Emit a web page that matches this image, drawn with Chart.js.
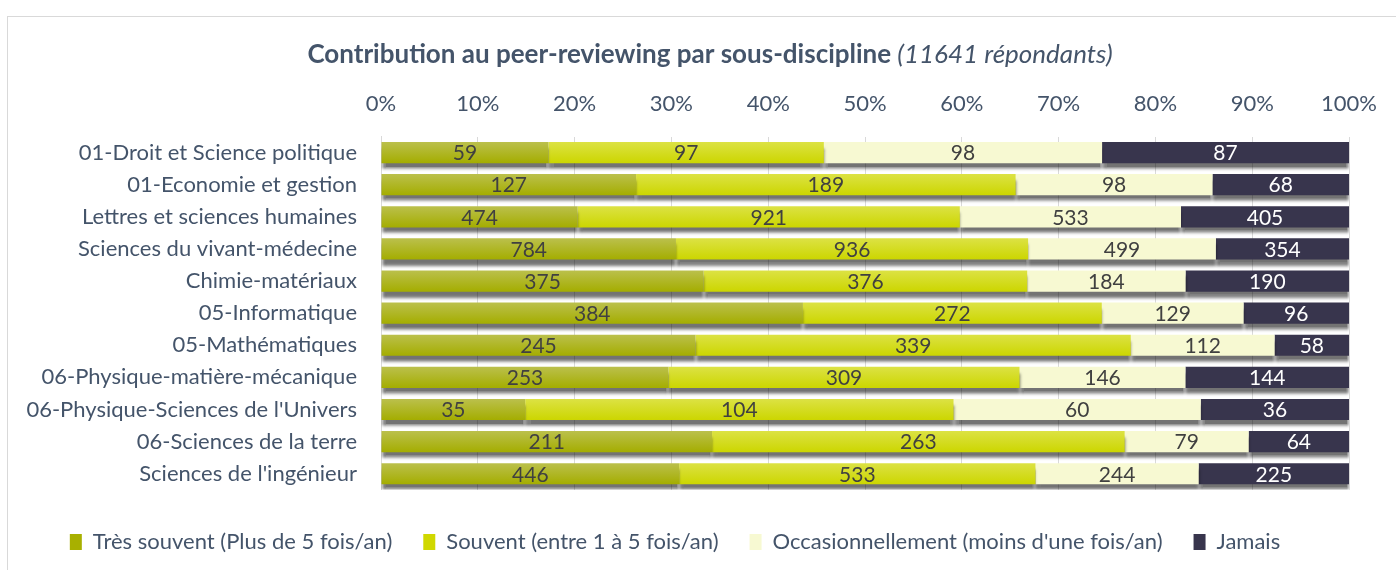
<!DOCTYPE html>
<html>
<head>
<meta charset="utf-8">
<script src="https://cdn.jsdelivr.net/npm/chart.js"></script>
<style>
  html, body { margin: 0; padding: 0; background: #fff; }
  #wrap { width: 1396px; height: 570px; position: relative; }
</style>
</head>
<body>
<div id="wrap"><canvas id="myChart" width="1396" height="570"></canvas></div>
<script>
// data
var categories = [
  '01-Droit et Science politique',
  '01-Economie et gestion',
  'Lettres et sciences humaines',
  'Sciences du vivant-médecine',
  'Chimie-matériaux',
  '05-Informatique',
  '05-Mathématiques',
  '06-Physique-matière-mécanique',
  "06-Physique-Sciences de l'Univers",
  '06-Sciences de la terre',
  "Sciences de l'ingénieur"
];
var tresSouvent = [59, 127, 474, 784, 375, 384, 245, 253, 35, 211, 446];
var souvent = [97, 189, 921, 936, 376, 272, 339, 309, 104, 263, 533];
var occasionnellement = [98, 98, 533, 499, 184, 129, 112, 146, 60, 79, 244];
var jamais = [87, 68, 405, 354, 190, 96, 58, 144, 36, 64, 225];
var seriesNames = [
  'Très souvent (Plus de 5 fois/an)',
  'Souvent (entre 1 à 5 fois/an)',
  "Occasionnellement (moins d'une fois/an)",
  'Jamais'
];
var titleMain = 'Contribution au peer-reviewing par sous-discipline';
var titleSub = ' (11641 répondants)';

var FONT = 'Lato';
var TXT = '#44546A';
var BAR_PCT = 0.66;

var counts = [tresSouvent, souvent, occasionnellement, jamais];
var totals = categories.map(function (c, i) {
  return counts.reduce(function (s, arr) { return s + arr[i]; }, 0);
});
function pct(arr) { return arr.map(function (v, i) { return v / totals[i] * 100; }); }

// vertical gradient per bar, built from the y scale positions
function barGradient(top, bottom, flat) {
  return function (ctx) {
    var chart = ctx.chart, area = chart.chartArea, ys = chart.scales.y;
    if (!area || !ys) return flat;
    var g = chart.ctx.createLinearGradient(0, area.top, 0, area.bottom);
    var h = area.bottom - area.top;
    var step = categories.length > 1 ? Math.abs(ys.getPixelForValue(1) - ys.getPixelForValue(0)) : h;
    var half = step * BAR_PCT / 2;
    categories.forEach(function (c, i) {
      var cy = ys.getPixelForValue(i);
      var a = Math.max(0, Math.min(1, (cy - half - area.top) / h));
      var b = Math.max(0, Math.min(1, (cy + half - area.top) / h));
      g.addColorStop(a, top);
      g.addColorStop(b, bottom);
    });
    return g;
  };
}

var colors = [
  barGradient('#BBC04C', '#A4AD00', '#AEB418'),
  barGradient('#DCE244', '#CCD600', '#D4DC20'),
  '#F7F9D2',
  '#38354D'
];

var frame = {
  id: 'frame',
  beforeDraw: function (chart) {
    var c = chart.ctx;
    c.save();
    c.strokeStyle = '#D9D9D9';
    c.lineWidth = 1;
    c.strokeRect(7.5, 16.5, 1400, 600);
    c.font = 'bold 26px ' + FONT;
    var w1 = c.measureText(titleMain).width;
    c.font = 'italic 26px ' + FONT;
    var w2 = c.measureText(titleSub).width;
    var x = (chart.width - (w1 + w2)) / 2 + 12;
    c.fillStyle = TXT;
    c.textBaseline = 'middle';
    c.font = 'bold 26px ' + FONT;
    c.fillText(titleMain, x, 55);
    c.font = 'italic 26px ' + FONT;
    c.fillText(titleSub, x + w1, 55);
    c.restore();
  }
};

var shadow = {
  id: 'shadow',
  beforeDatasetsDraw: function (chart) {
    var c = chart.ctx;
    c.save();
    c.shadowColor = 'rgba(0,0,0,0.55)';
    c.shadowOffsetY = 6;
    c.shadowBlur = 3;
  },
  afterDatasetsDraw: function (chart) {
    chart.ctx.restore();
  }
};

var valueLabels = {
  id: 'valueLabels',
  afterDatasetsDraw: function (chart) {
    var c = chart.ctx;
    c.save();
    c.font = '21px ' + FONT;
    c.textAlign = 'center';
    c.textBaseline = 'middle';
    chart.data.datasets.forEach(function (ds, di) {
      var meta = chart.getDatasetMeta(di);
      c.fillStyle = di === 3 ? '#FFFFFF' : '#404040';
      meta.data.forEach(function (el, i) {
        c.fillText(String(counts[di][i]), (el.x + el.base) / 2, el.y + 1);
      });
    });
    c.restore();
  }
};

var data = {
  labels: categories,
  datasets: counts.map(function (arr, i) {
    return {
      label: seriesNames[i],
      data: pct(arr),
      backgroundColor: colors[i],
      borderWidth: 0,
      barPercentage: BAR_PCT,
      categoryPercentage: 1
    };
  })
};

var config = {
  type: 'bar',
  data: data,
  options: {
    indexAxis: 'y',
    responsive: false,
    animation: false,
    layout: { padding: { top: 70, right: 46, bottom: 7, left: 0 } },
    scales: {
      x: {
        stacked: true,
        position: 'top',
        min: 0,
        max: 100,
        afterFit: function (s) { s.height = 66.5; },
        ticks: {
          stepSize: 10,
          padding: 19,
          color: TXT,
          font: { family: FONT, size: 22 },
          callback: function (v) { return v + '%'; }
        },
        grid: { color: '#D9D9D9', drawTicks: false },
        border: { display: false }
      },
      y: {
        stacked: true,
        afterFit: function (s) { s.width = 381; },
        ticks: {
          padding: 24,
          color: TXT,
          font: { family: FONT, size: 22 }
        },
        grid: { display: false, drawTicks: false },
        border: { color: '#D9D9D9' }
      }
    },
    plugins: {
      legend: {
        position: 'bottom',
        title: { display: true, text: ' ', font: { size: 1 }, padding: { top: 9, bottom: 0 } },
        labels: {
          boxWidth: 12,
          boxHeight: 16,
          padding: 31,
          color: TXT,
          font: { family: FONT, size: 22 },
          generateLabels: function (chart) {
            var solid = ['#A8B000', '#D0D800', '#F7F9D2', '#38354D'];
            return chart.data.datasets.map(function (ds, i) {
              return {
                text: ds.label,
                fillStyle: solid[i],
                strokeStyle: solid[i],
                lineWidth: 0,
                fontColor: TXT,
                datasetIndex: i
              };
            });
          }
        }
      },
      title: { display: false },
      tooltip: { enabled: false }
    }
  },
  plugins: [frame, shadow, valueLabels]
};

var myChart = new Chart(document.getElementById('myChart'), config);
</script>
</body>
</html>
